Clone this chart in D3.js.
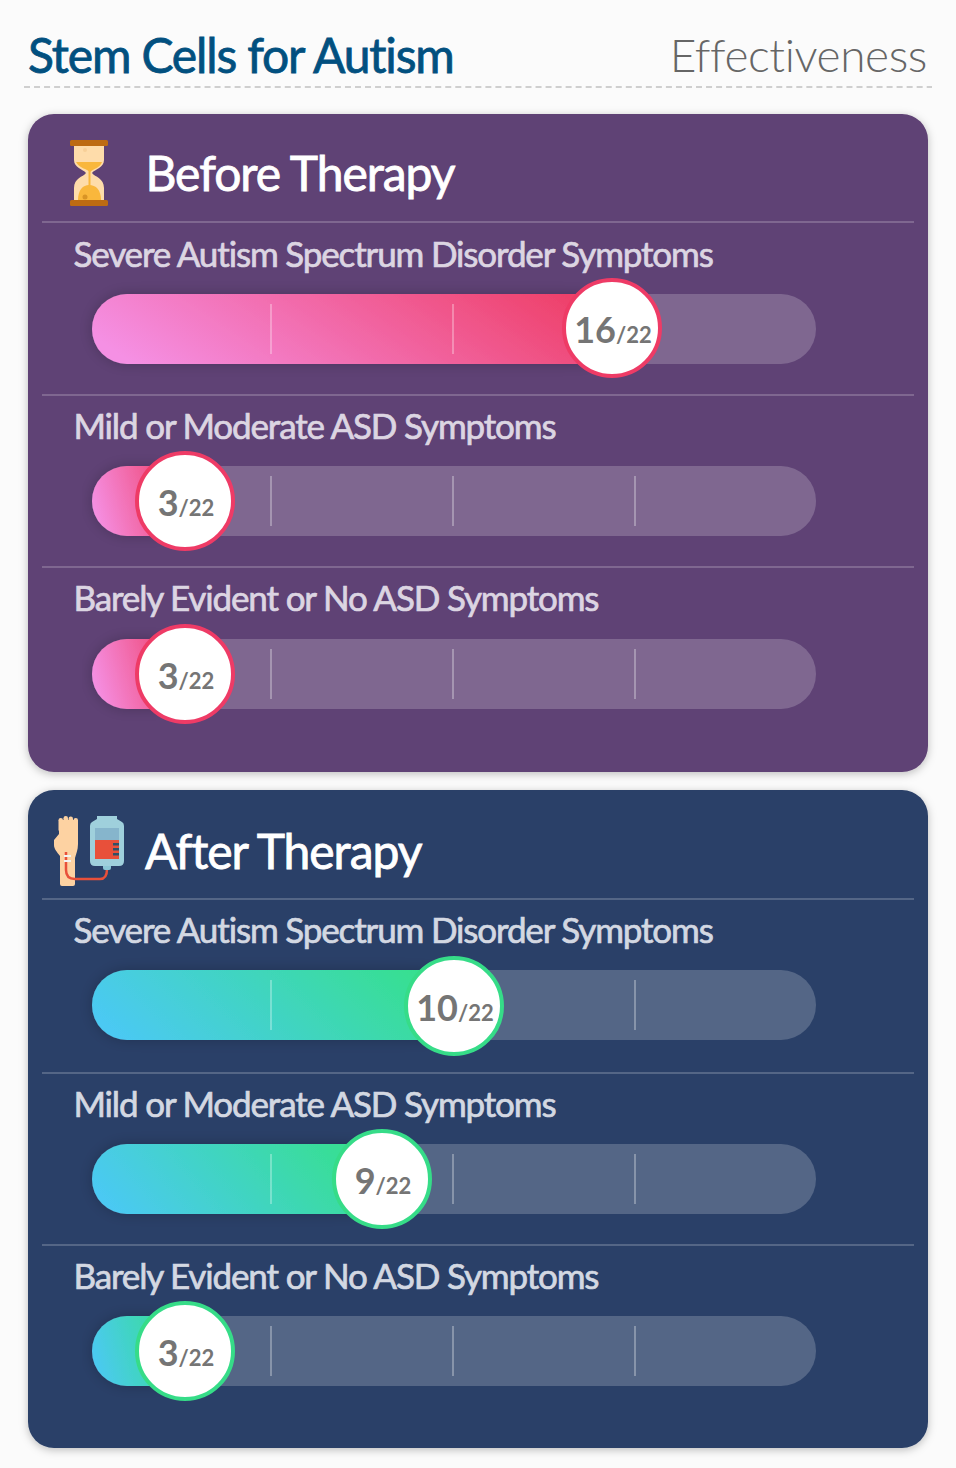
<!DOCTYPE html>
<html>
<head>
  <meta charset="utf-8">
  <title>Stem Cells for Autism</title>
  <script src="https://d3js.org/d3.v7.min.js"></script>
  <style>
    body { margin: 0; background: #fbfbfb; overflow: hidden; }
    svg { display: block; }
    text { font-family: Lato, sans-serif; }
  </style>
</head>
<body>
<svg width="956" height="1468"></svg>
<script>
// --- data ---
const groups = ["Before Therapy", "After Therapy"];
const categories = ["Severe Autism Spectrum Disorder Symptoms", "Mild or Moderate ASD Symptoms", "Barely Evident or No ASD Symptoms"];
const beforeValues = [16, 3, 3];
const afterValues = [10, 9, 3];
const total = 22;
const tickSteps = [1, 2, 3];

// the source bars are not proportional to the score, so the scale follows the picture
const x = d3.scaleLinear().domain([0, 3, 9, 10, 16, 22]).range([92, 185, 382, 454, 612, 816]);
const tickX = d3.scaleLinear().domain([1, 3]).range([271, 635]);

// --- layout ---
const panels = [
  {top: 114, fill: "#5f4274", label: "#dcd5e2", from: "#f590e4", to: "#ee4069", ring: "#ee3b66", values: beforeValues,
   titleX: 145.5, titleY: 191, rules: [222, 395, 567], labels: [267, 439, 611], bars: [294, 466, 639], cy: [328, 501, 674]},
  {top: 790, fill: "#2c4068", label: "#d3d8e2", from: "#4bc9f3", to: "#36e08d", ring: "#36dc88", values: afterValues,
   titleX: 145, titleY: 869, rules: [899, 1073, 1245], labels: [943, 1117, 1289], bars: [970, 1144, 1316], cy: [1006, 1179, 1351]}
];
const barH = 70, r = 48;

const svg = d3.select("svg");
const defs = svg.append("defs");

const soft = defs.append("filter").attr("id", "soft")
  .attr("x", "-5%").attr("y", "-5%").attr("width", "110%").attr("height", "110%");
soft.append("feDropShadow").attr("dx", 0).attr("dy", 2).attr("stdDeviation", 4)
  .attr("flood-color", "#000").attr("flood-opacity", 0.25);
const barShadow = defs.append("filter").attr("id", "barShadow")
  .attr("x", "-10%").attr("y", "-40%").attr("width", "120%").attr("height", "180%");
barShadow.append("feDropShadow").attr("dx", 0).attr("dy", 0).attr("stdDeviation", 7)
  .attr("flood-color", "#000").attr("flood-opacity", 0.22);

// header
svg.append("text").attr("x", 28).attr("y", 73)
  .attr("font-size", 48).attr("fill", "#02507f").attr("stroke", "#02507f").attr("stroke-width", 0.8)
  .attr("letter-spacing", -1.15)
  .text("Stem Cells for Autism");
svg.append("text").attr("x", 927).attr("y", 72).attr("text-anchor", "end")
  .attr("font-size", 46).attr("font-weight", 300).attr("fill", "#666").attr("letter-spacing", -0.4)
  .text("Effectiveness");
svg.append("line").attr("x1", 24).attr("x2", 932).attr("y1", 87).attr("y2", 87)
  .attr("stroke", "#cfcfcf").attr("stroke-width", 2).attr("stroke-dasharray", "6 4.03");

panels.forEach((p, i) => {
  const g = svg.append("g");
  g.append("rect").attr("x", 28).attr("y", p.top).attr("width", 900).attr("height", 658)
    .attr("rx", 26).attr("fill", p.fill).attr("filter", "url(#soft)");
  g.append("text").attr("x", p.titleX).attr("y", p.titleY)
    .attr("font-size", 48).attr("fill", "#fff").attr("stroke", "#fff").attr("stroke-width", 0.8)
    .attr("letter-spacing", -1.05)
    .text(groups[i]);

  const grad = defs.append("linearGradient").attr("id", "fill" + i)
    .attr("x1", "0%").attr("y1", "60%").attr("x2", "100%").attr("y2", "40%");
  grad.append("stop").attr("offset", "0%").attr("stop-color", p.from);
  grad.append("stop").attr("offset", "100%").attr("stop-color", p.to);

  const rows = g.selectAll("g.row").data(categories).join("g").attr("class", "row");

  rows.append("line").attr("x1", 42).attr("x2", 914)
    .attr("y1", (d, j) => p.rules[j]).attr("y2", (d, j) => p.rules[j])
    .attr("stroke", "#fff").attr("stroke-opacity", 0.2).attr("stroke-width", 2);

  rows.append("text").attr("x", 73.5).attr("y", (d, j) => p.labels[j])
    .attr("font-size", 35).attr("fill", p.label).attr("stroke", p.label).attr("stroke-width", 0.7)
    .attr("letter-spacing", -1.15)
    .text(d => d);

  rows.append("rect").attr("x", x(0)).attr("y", (d, j) => p.bars[j])
    .attr("width", x(total) - x(0)).attr("height", barH).attr("rx", 35)
    .attr("fill", "#fff").attr("fill-opacity", 0.2);

  // filled part runs under the score circle
  rows.append("rect").attr("x", x(0)).attr("y", (d, j) => p.bars[j])
    .attr("width", (d, j) => x(p.values[j]) - x(0)).attr("height", barH).attr("rx", 35)
    .attr("fill", `url(#fill${i})`).attr("filter", "url(#barShadow)");

  rows.each(function (d, j) {
    d3.select(this).selectAll("line.tick").data(tickSteps).join("line").attr("class", "tick")
      .attr("x1", tickX).attr("x2", tickX)
      .attr("y1", p.bars[j] + 10).attr("y2", p.bars[j] + 60)
      .attr("stroke", "#fff").attr("stroke-opacity", 0.3).attr("stroke-width", 2);
  });

  rows.append("circle").attr("cx", (d, j) => x(p.values[j])).attr("cy", (d, j) => p.cy[j])
    .attr("r", r).attr("fill", "#fff").attr("stroke", p.ring).attr("stroke-width", 4);

  const score = rows.append("text").attr("x", (d, j) => x(p.values[j]) + 1).attr("y", (d, j) => p.cy[j] + 15)
    .attr("text-anchor", "middle").attr("font-weight", 700).attr("fill", "#757575");
  score.append("tspan").attr("font-size", 36).text((d, j) => p.values[j]);
  score.append("tspan").attr("font-size", 22).text("/" + total);
});

// hourglass icon
const glass = svg.append("g").attr("transform", "translate(70,140)");
glass.append("path").attr("fill", "#fedcaa")
  .attr("d", "M4 6H34V20C34 28 25 29 22 33C25 37 34 38 34 48V60H4V48C4 38 13 37 16 33C13 29 4 28 4 20Z");
glass.append("path").attr("fill", "#f9b73c").attr("d", "M6 22H32C30 28 23 29 20 32C17 29 9 28 6 22Z");
glass.append("rect").attr("x", 18.5).attr("y", 30).attr("width", 2).attr("height", 20).attr("fill", "#f9b73c");
glass.append("path").attr("fill", "#f9b73c").attr("d", "M8 60C8 50 13 45 19 45C26 45 31 50 31 60Z");
glass.append("circle").attr("cx", 15).attr("cy", 10).attr("r", 2).attr("fill", "#f7cf98");
glass.append("circle").attr("cx", 15).attr("cy", 57).attr("r", 2.5).attr("fill", "#d99425");
glass.append("rect").attr("x", 0).attr("y", 0).attr("width", 38).attr("height", 6).attr("rx", 1.5).attr("fill", "#bd6b12");
glass.append("rect").attr("x", 0).attr("y", 60).attr("width", 38).attr("height", 6).attr("rx", 1.5).attr("fill", "#bd6b12");

// hand and drip bag icon
const drip = svg.append("g").attr("transform", "translate(54,816)");
drip.append("path").attr("fill", "#fdd2a2")
  .attr("d", "M6 68Q6 70 8 70H19Q21 70 21 68V42C22 38 24 34 24 28V4H5V18L0 24V29C0 33 3 36 6 40Z");
drip.selectAll("rect.finger").data([5, 10, 15, 20]).join("rect").attr("class", "finger")
  .attr("x", d => d - 0.5).attr("y", (d, k) => [2, 0, 0.5, 2][k]).attr("width", 4.5).attr("height", 14).attr("rx", 2.2)
  .attr("fill", "#fdd2a2");
drip.append("path").attr("fill", "none").attr("stroke", "#e8503a").attr("stroke-width", 2.5)
  .attr("d", "M12 36V54C12 60 15 63 21 63H46C51 63 53 60 53 53");
drip.append("rect").attr("x", 10).attr("y", 39).attr("width", 7).attr("height", 2).attr("fill", "#f3f3f3");
drip.append("rect").attr("x", 10).attr("y", 44).attr("width", 7).attr("height", 2).attr("fill", "#f3f3f3");
drip.append("rect").attr("x", 49).attr("y", 46).attr("width", 8).attr("height", 8).attr("rx", 2).attr("fill", "#8cc7d6");
drip.append("path").attr("fill", "#9fd0dc")
  .attr("d", "M36 10Q36 7 38 6L43 3V0H63V3L68 6Q70 7 70 10V45Q70 50 65 50H41Q36 50 36 45Z");
drip.append("rect").attr("x", 41).attr("y", 12).attr("width", 24).attr("height", 12).attr("fill", "#86b5cc");
drip.append("rect").attr("x", 41).attr("y", 24).attr("width", 24).attr("height", 19).attr("fill", "#e8503a");
drip.selectAll("rect.mark").data([27, 32, 37]).join("rect").attr("class", "mark")
  .attr("x", 59).attr("y", d => d).attr("width", 6).attr("height", 2.5).attr("fill", "#2f5068");
</script>
</body>
</html>
